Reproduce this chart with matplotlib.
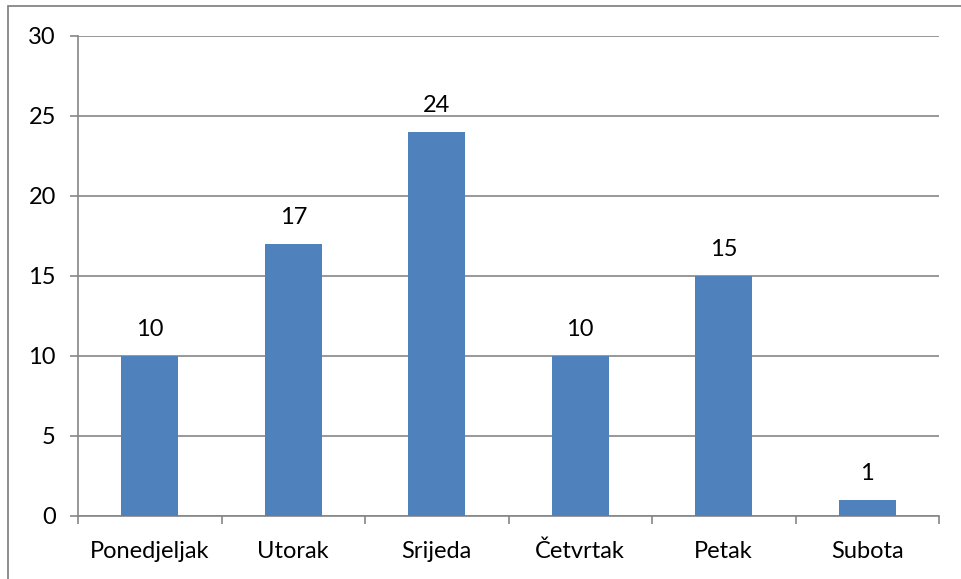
import matplotlib.pyplot as plt
import matplotlib.patches as mpatches
import numpy as np

dani = ['Ponedjeljak', 'Utorak', 'Srijeda', 'Četvrtak', 'Petak', 'Subota']
vrijednosti = [10, 17, 24, 10, 15, 1]
y_ticks = [0, 5, 10, 15, 20, 25, 30]

plt.rcParams['font.family'] = ['Lato', 'DejaVu Sans']
fs = 17

fig = plt.figure(figsize=(9.61, 5.79), dpi=100)
ax = fig.add_axes([78 / 961, 1 - 515.5 / 579, (939 - 78) / 961, (515.5 - 36) / 579])

# okvir oko cijelog grafa
okvir = mpatches.Rectangle((8 / 961, -0.05), 1.05, 1 - 6 / 579 + 0.05,
                           transform=fig.transFigure, fill=False,
                           edgecolor='#868686', linewidth=1.3)
fig.patches.append(okvir)

x = np.arange(len(dani))
bars = ax.bar(x, vrijednosti, width=0.4, color='#4F81BD', zorder=3)
for b, v in zip(bars, vrijednosti):
    ax.text(b.get_x() + b.get_width() / 2, v + 1.0, str(v),
            ha='center', va='bottom', fontsize=fs)

ax.set_xlim(-0.5, len(dani) - 0.5)
ax.set_ylim(0, 30)
ax.set_yticks(y_ticks)
ax.tick_params(axis='y', labelsize=fs, length=6, color='#868686', width=1.2, pad=10)
ax.yaxis.grid(True, color='#868686', linewidth=1.2, zorder=0)

ax.set_xticks(x)
ax.set_xticklabels(dani, fontsize=fs)
ax.tick_params(axis='x', length=0, pad=18)
ax.set_xticks(np.arange(-0.5, len(dani)), minor=True)
ax.tick_params(axis='x', which='minor', length=6, color='#868686', width=1.2)

for s in ['top', 'right']:
    ax.spines[s].set_visible(False)
for s in ['left', 'bottom']:
    ax.spines[s].set_color('#868686')
    ax.spines[s].set_linewidth(1.2)

fig.savefig('out.png', dpi=100)
